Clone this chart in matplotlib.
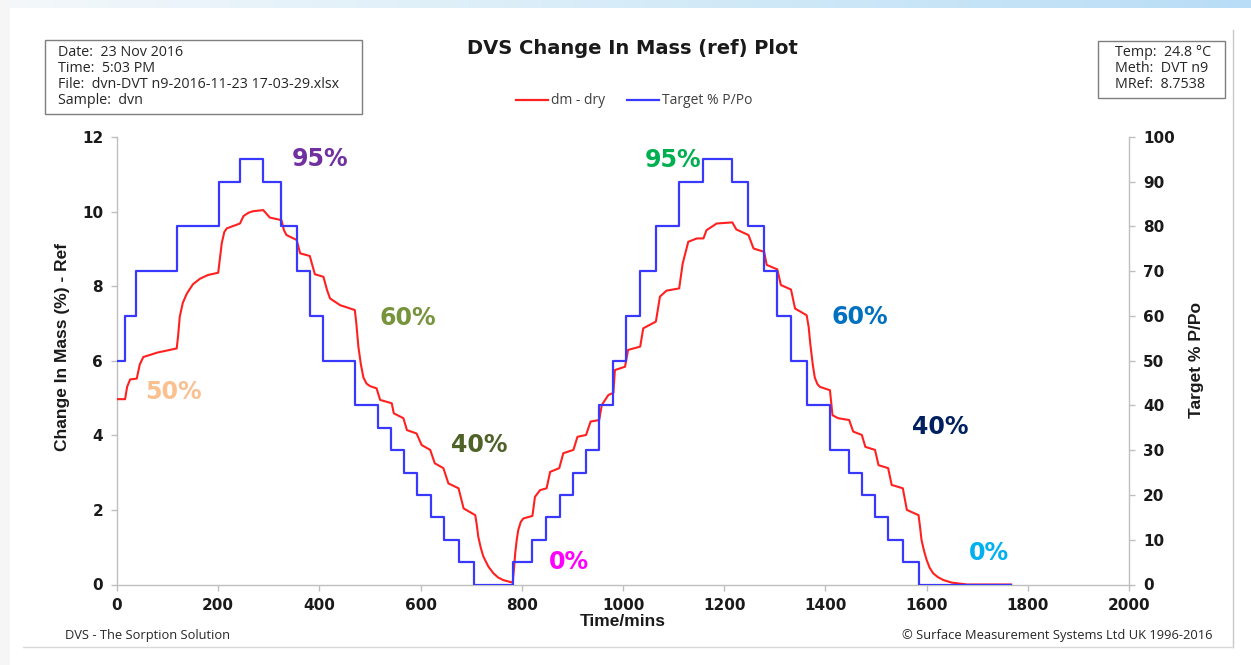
import matplotlib
matplotlib.use('Agg')
import matplotlib.pyplot as plt
import numpy as np
from matplotlib.lines import Line2D
from matplotlib.patches import Rectangle
from matplotlib.colors import LinearSegmentedColormap

# ---------------- data ----------------
rh_time = [0, 16, 37, 118, 202, 243, 289, 325, 355, 381,
           408, 470, 516, 541, 567, 592, 620, 647, 676, 706,
           782, 821, 848, 876, 902, 927, 953, 980, 1006, 1034,
           1065, 1111, 1159, 1216, 1248, 1279, 1305, 1332, 1363, 1409,
           1447, 1472, 1498, 1524, 1553, 1584, 1767]
rh_level = [50, 60, 70, 80, 90, 95, 90, 80, 70, 60,
            50, 40, 35, 30, 25, 20, 15, 10, 5, 0,
            5, 10, 15, 20, 25, 30, 40, 50, 60, 70,
            80, 90, 95, 90, 80, 70, 60, 50, 40, 30,
            25, 20, 15, 10, 5, 0, 0]

dm_time = [0, 16, 20, 26, 39, 45, 52, 80, 118, 121, 124, 130, 138, 150, 164, 180, 200,
           204, 207, 212, 217, 243, 250, 260, 269, 289, 302, 325, 330, 335,
           355, 362, 381, 391, 408, 415, 421, 441, 470, 473, 477, 482, 487, 493,
           500, 513, 520, 543, 547, 566, 573, 592, 602, 619, 628, 645, 655, 675,
           685, 708, 711, 714, 719, 724, 734, 744, 753, 763, 782, 785, 787, 790, 793,
           798, 803, 821, 826,
           836, 849, 856, 874, 882, 902, 910, 927, 936, 953, 958, 971, 981,
           984, 1004, 1010, 1034, 1040, 1065, 1073, 1086, 1111, 1118, 1129,
           1146, 1159, 1165, 1185, 1216, 1224, 1248, 1258, 1279, 1284, 1305,
           1312, 1332, 1340, 1363, 1367, 1370, 1375, 1379, 1384, 1389, 1409, 1414,
           1425, 1447, 1455, 1472, 1479, 1498, 1505, 1524, 1531, 1553, 1561, 1584,
           1587, 1590, 1595, 1600, 1606, 1613, 1622, 1633, 1650, 1680, 1767]
dm_value = [4.97, 4.97, 5.3, 5.5, 5.52, 5.9, 6.1, 6.22, 6.33, 6.7, 7.18, 7.55, 7.8, 8.05,
            8.2, 8.3, 8.36,
            8.8, 9.15, 9.45, 9.55, 9.68, 9.88, 9.97, 10.01, 10.04, 9.84, 9.77, 9.5, 9.37,
            9.24, 8.88, 8.81, 8.32, 8.25, 7.9, 7.67, 7.49, 7.36, 7.0, 6.38, 5.9, 5.55, 5.39,
            5.32, 5.26, 4.95, 4.86, 4.59, 4.46, 4.14, 4.05, 3.74, 3.61, 3.25, 3.12, 2.71,
            2.58, 2.04, 1.86, 1.6, 1.28, 0.98, 0.75, 0.48, 0.30, 0.19, 0.12, 0.05, 0.5,
            0.84, 1.2, 1.46, 1.68, 1.77, 1.84, 2.35,
            2.53, 2.58, 3.02, 3.12, 3.52, 3.61, 3.96, 4.01, 4.37, 4.41, 4.81, 5.08, 5.14,
            5.75, 5.84, 6.29, 6.38, 6.87, 7.05, 7.72, 7.88, 7.94, 8.61, 9.19,
            9.28, 9.28, 9.5, 9.68, 9.71, 9.52, 9.37, 9.01, 8.92, 8.57, 8.45,
            8.03, 7.91, 7.4, 7.22, 6.9, 6.47, 5.9, 5.55, 5.38, 5.3, 5.21, 4.54,
            4.46, 4.41, 4.1, 4.01, 3.69, 3.61, 3.2, 3.12, 2.67, 2.58, 2.0, 1.86,
            1.55, 1.19, 0.9, 0.66, 0.45, 0.30, 0.2, 0.12, 0.05, 0.0, 0.0]

x_ticks = list(range(0, 2001, 200))
left_ticks = list(range(0, 13, 2))
right_ticks = list(range(0, 101, 10))

ann_text = ['95%', '50%', '60%', '40%', '0%', '95%', '60%', '40%', '0%']
ann_time = [401, 111, 575, 715, 893, 1099, 1468, 1626, 1723]
ann_dm = [11.41, 5.16, 7.14, 3.74, 0.60, 11.38, 7.17, 4.22, 0.84]
ann_color = ['#7030A0', '#FAC090', '#77933C', '#4F6228', '#FF00FF',
             '#00B050', '#0070C0', '#002060', '#00B0F0']

series_names = ['dm - dry', 'Target % P/Po']
series_colors = ['#FF2020', '#3838FF']

# ---------------- figure ----------------
W, H = 1251, 665
fig = plt.figure(figsize=(W / 100, H / 100), dpi=100)
fig.patch.set_facecolor('white')

BOLD = dict(family='DejaVu Sans', weight='bold')
SOFT = 'Open Sans'
GREY = '#BFBFBF'
TF = fig.transFigure


def fx(px):
    return px / W


def fy(py):
    return 1 - py / H


# decorative top gradient bar
bar = fig.add_axes([0, 1 - 8 / H, 1, 8 / H])
grad = np.linspace(0, 1, 256).reshape(1, -1)
cmap = LinearSegmentedColormap.from_list('g', ['#F4F8FB', '#D6ECF8', '#B9DDF6'])
bar.imshow(grad, aspect='auto', cmap=cmap)
bar.axis('off')
# decorative left strip
fig.add_artist(Rectangle((0, 0), 10 / W, 1, transform=TF,
                         facecolor='#F6F6F6', edgecolor='none'))
# outer frame lines (right / bottom)
fig.add_artist(Line2D([fx(1233), fx(1233)], [fy(647), fy(30)],
                      transform=TF, color='#C8C8C8', lw=1))
fig.add_artist(Line2D([fx(23), fx(1233)], [fy(647), fy(647)],
                      transform=TF, color='#D8D8D8', lw=1))

ax = fig.add_axes([fx(117), fy(584.5), (1129 - 117) / W, (584.5 - 137) / H])
ax2 = ax.twinx()

ax.plot(dm_time, dm_value, color=series_colors[0], lw=1.5, zorder=3)
ax2.step(rh_time, rh_level, where='post', color=series_colors[1], lw=1.6, zorder=2)

ax.set_xlim(0, 2000)
ax.set_ylim(0, 12)
ax2.set_ylim(0, 100)
ax.set_xticks(x_ticks)
ax.set_yticks(left_ticks)
ax2.set_yticks(right_ticks)

for a in (ax, ax2):
    a.spines['top'].set_visible(False)
    for s in a.spines.values():
        s.set_color(GREY)
        s.set_linewidth(1.0)
ax.spines['right'].set_visible(False)
ax2.spines['left'].set_visible(False)
ax2.spines['bottom'].set_visible(False)

ax.tick_params(axis='both', direction='out', length=4, width=1, color=GREY,
               labelsize=11, pad=6)
ax2.tick_params(axis='y', direction='out', length=4, width=1, color=GREY,
                labelsize=11, pad=6)
for lab in ax.get_xticklabels() + ax.get_yticklabels() + ax2.get_yticklabels():
    lab.set_fontfamily('DejaVu Sans')
    lab.set_fontweight('bold')
    lab.set_color('#1a1a1a')

for t, x, y, c in zip(ann_text, ann_time, ann_dm, ann_color):
    ax.text(x, y, t, color=c, ha='center', va='center', fontsize=17,
            zorder=6, clip_on=False, **BOLD)

# axis labels
fig.text(fx(62), fy(347), 'Change In Mass (%) - Ref', rotation=90,
         ha='center', va='center', fontsize=12.5, family='Liberation Sans',
         weight='bold', color='#1a1a1a')
fig.text(fx(1196), fy(360), 'Target % P/Po', rotation=90,
         ha='center', va='center', fontsize=12.5, family='Liberation Sans',
         weight='bold', color='#1a1a1a')
fig.text(fx(623), fy(622), 'Time/mins', ha='center', va='center',
         fontsize=12.5, family='Liberation Sans', weight='bold', color='#1a1a1a')

# title
fig.text(fx(632), fy(49), 'DVS Change In Mass (ref) Plot', ha='center',
         va='center', fontsize=14, color='#1a1a1a', **BOLD)

# legend (hand placed)
leg_line_x = [(516, 548), (627, 659)]
for (x0, x1), name, col in zip(leg_line_x, series_names, series_colors):
    fig.add_artist(Line2D([fx(x0), fx(x1)], [fy(100), fy(100)], transform=TF,
                          color=col, lw=1.6))
    fig.text(fx(x1 + 3), fy(100), name, ha='left', va='center', fontsize=10,
             family=SOFT, color='#404040')

# info boxes
fig.add_artist(Rectangle((fx(45), fy(114)), (362 - 45) / W, (114 - 40) / H,
                         transform=TF, fill=False, edgecolor='#7F7F7F', lw=1))
for i, s in enumerate(['Date:  23 Nov 2016', 'Time:  5:03 PM',
                       'File:  dvn-DVT n9-2016-11-23 17-03-29.xlsx',
                       'Sample:  dvn']):
    fig.text(fx(58), fy(53 + 15.7 * i), s, ha='left', va='center',
             fontsize=10.3, family=SOFT, color='#262626')

fig.add_artist(Rectangle((fx(1098), fy(98)), (1225 - 1098) / W, (98 - 41) / H,
                         transform=TF, fill=False, edgecolor='#7F7F7F', lw=1))
for i, s in enumerate(['Temp:  24.8 °C', 'Meth:  DVT n9', 'MRef:  8.7538']):
    fig.text(fx(1115), fy(53 + 16 * i), s, ha='left', va='center',
             fontsize=10.3, family=SOFT, color='#262626')

# footers
fig.text(fx(65), fy(636), 'DVS - The Sorption Solution', ha='left',
         va='center', fontsize=9.3, family=SOFT, color='#262626')
fig.text(fx(1212), fy(636), '© Surface Measurement Systems Ltd UK 1996-2016',
         ha='right', va='center', fontsize=9.3, family=SOFT, color='#262626')

fig.savefig('out.png', dpi=100)
